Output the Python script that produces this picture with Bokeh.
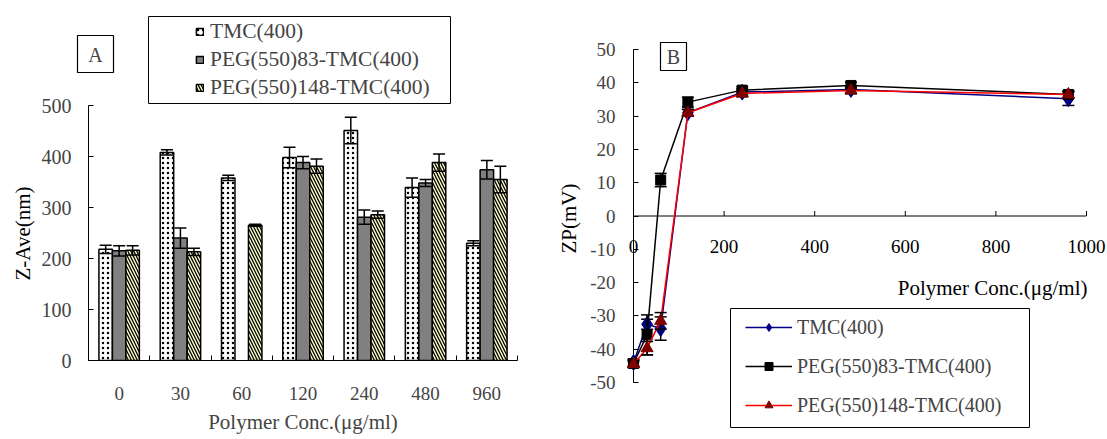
import numpy as np
from bokeh.plotting import figure
from bokeh.models import (Range1d, FixedTicker, Legend, LegendItem, Label, Span)
from bokeh.core.properties import value
from bokeh.layouts import row
from bokeh.embed import file_html
from bokeh.resources import INLINE

# ---------------- data ----------------
conc_labels = ["0", "30", "60", "120", "240", "480", "960"]
conc_values = [0, 30, 60, 120, 240, 480, 960]
series_names = ["TMC(400)", "PEG(550)83-TMC(400)", "PEG(550)148-TMC(400)"]

# Panel A: Z-Ave (nm)
zave_tmc = [218, 408, 358, 398, 451, 339, 230]
zave_tmc_err = [8, 5, 5, 20, 26, 19, 5]
zave_peg83 = [215, 240, float("nan"), 388, 281, 348, 374]
zave_peg83_err = [10, 20, float("nan"), 12, 14, 7, 18]
zave_peg148 = [216, 213, 265, 381, 286, 388, 355]
zave_peg148_err = [9, 7, 2, 14, 7, 17, 26]

# Panel B: ZP (mV)
zp_tmc = [-44.0, -32.5, -33.8, 31.0, 37.2, 38.0, 35.2]
zp_tmc_err = [1, 1.5, 3.5, 1, 1, 1, 2]
zp_peg83 = [-44.3, -35.7, 10.8, 34.2, 37.8, 39.2, 36.5]
zp_peg83_err = [1, 6, 2, 1.5, 1, 1, 1]
zp_peg148 = [-44.5, -39.7, -31.5, 31.0, 36.8, 37.7, 36.5]
zp_peg148_err = [1, 2, 2.5, 1, 1, 1, 1]

zave_ticks = [0, 100, 200, 300, 400, 500]
zp_ticks = [-50, -40, -30, -20, -10, 0, 10, 20, 30, 40, 50]
conc_ticks_B = [0, 200, 400, 600, 800, 1000]

FONT = "Liberation Serif"
H = 439

# ---------------- panel A ----------------
WA = 545
A_L, A_R, A_T, A_B = 88, 28, 10, 79
frameA_w = WA - A_L - A_R
frameA_h = H - A_T - A_B
px_per_unit_A = 255 / 500.0
ymaxA = frameA_h / px_per_unit_A
ncat = len(conc_labels)

def ax(px):
    return (px - A_L) / (frameA_w / ncat)

def ay(py):
    return (H - A_B - py) / px_per_unit_A

pA = figure(width=WA, height=H, x_range=Range1d(0, ncat), y_range=Range1d(0, ymaxA),
            output_backend="svg", toolbar_location=None,
            min_border_left=A_L, min_border_right=A_R, min_border_top=A_T, min_border_bottom=A_B)
pA.frame_align = False
pA.outline_line_color = None
pA.grid.visible = False
pA.background_fill_color = "white"
pA.border_fill_color = "white"

centers = np.arange(ncat) + 0.5
bw = 0.22
offsets = [-bw, 0.0, bw]
bar_styles = [
    dict(fill_color="white", hatch_pattern="dot", hatch_color="black", hatch_scale=5, hatch_weight=0.8),
    dict(fill_color="#808080"),
    dict(fill_color="#FFFFCC", hatch_pattern="left_diagonal_line", hatch_color="black", hatch_scale=6, hatch_weight=1.3),
]
bar_vals = [zave_tmc, zave_peg83, zave_peg148]
bar_errs = [zave_tmc_err, zave_peg83_err, zave_peg148_err]
bar_renderers = []
for vals, errs, off, st in zip(bar_vals, bar_errs, offsets, bar_styles):
    x = centers + off
    v = np.array(vals, dtype=float)
    e = np.array(errs, dtype=float)
    r = pA.vbar(x=x, top=v, width=bw, bottom=0, line_color="black", line_width=1.5, **st)
    bar_renderers.append(r)
    pA.segment(x0=x, y0=v - e, x1=x, y1=v + e, line_color="black", line_width=1.5)
    pA.scatter(x=np.concatenate([x, x]), y=np.concatenate([v + e, v - e]), marker="dash",
               size=12, line_color="black", line_width=1.5)

# axes A
yaxA = pA.yaxis[0]
yaxA.ticker = FixedTicker(ticks=zave_ticks)
yaxA.bounds = (0, 500)
yaxA.major_tick_in = 5
yaxA.major_tick_out = 0
yaxA.minor_tick_line_color = None
yaxA.major_label_standoff = 17
yaxA.major_label_text_font = FONT
yaxA.major_label_text_font_size = "20px"

ylA = pA.text(x=[ax(22)], y=[ay(233)], text=["Z-Ave(nm)"], angle=np.pi / 2,
              text_align="center", text_baseline="middle",
              text_font=value(FONT), text_font_size="21px", text_color="black")
ylA.level = "overlay"

xaxA = pA.xaxis[0]
xaxA.ticker = FixedTicker(ticks=list(centers), minor_ticks=list(range(0, ncat + 1)))
xaxA.major_label_overrides = {float(c): lab for c, lab in zip(centers, conc_labels)}
xaxA.major_tick_line_color = None
xaxA.minor_tick_in = 5
xaxA.minor_tick_out = 0
xaxA.major_label_standoff = 20
xaxA.major_label_text_font = FONT
xaxA.major_label_text_font_size = "19px"
xaxA.axis_label = "Polymer Conc.(\u03bcg/ml)"
xaxA.axis_label_text_font = FONT
xaxA.axis_label_text_font_size = "21px"
xaxA.axis_label_text_font_style = "normal"
xaxA.axis_label_standoff = 7

# legend A
legA = Legend(items=[LegendItem(label=n, renderers=[r]) for n, r in zip(series_names, bar_renderers)],
              location=(107, 259), padding=0, spacing=0, margin=0,
              glyph_width=9, glyph_height=9, label_height=28, label_standoff=6,
              label_text_font=FONT, label_text_font_size="21.5px",
              border_line_color=None, background_fill_alpha=0)
pA.add_layout(legA)
pA.quad(left=[ax(148)], right=[ax(450)], top=[ay(16)], bottom=[ay(103)],
        fill_color=None, line_color="black", line_width=1)

boxA = pA.quad(left=[ax(77)], right=[ax(113)], top=[ay(35)], bottom=[ay(72)],
               fill_color=None, line_color="black", line_width=1.2)
boxA.level = "overlay"
pA.add_layout(Label(x=ax(95), y=ay(54), text="A", text_align="center", text_baseline="middle",
                    text_font=FONT, text_font_size="20px"))

# ---------------- panel B ----------------
WB = 1107 - WA
B_L, B_R, B_T, B_B = 88, 21, 49, 7
frameB_w = WB - B_L - B_R
frameB_h = H - B_T - B_B
frame_left_B = WA + B_L
px_per_unit_B = 333 / 100.0
yminB = 50 - frameB_h / px_per_unit_B

def bx(px):
    return (px - frame_left_B) * 1000.0 / frameB_w

def by(py):
    return 50 - (py - B_T) / px_per_unit_B

pB = figure(width=WB, height=H, x_range=Range1d(0, 1000), y_range=Range1d(yminB, 50),
            x_axis_location=None, output_backend="svg", toolbar_location=None,
            min_border_left=B_L, min_border_right=B_R, min_border_top=B_T, min_border_bottom=B_B)
pB.frame_align = False
pB.outline_line_color = None
pB.grid.visible = False
pB.background_fill_color = "white"
pB.border_fill_color = "white"

yaxB = pB.yaxis[0]
yaxB.ticker = FixedTicker(ticks=zp_ticks)
yaxB.major_label_overrides = {t: str(t) for t in zp_ticks}
yaxB.bounds = (-50, 50)
yaxB.major_tick_in = 5
yaxB.major_tick_out = 0
yaxB.minor_tick_line_color = None
yaxB.major_label_standoff = 18
yaxB.major_label_text_font = FONT
yaxB.major_label_text_font_size = "19px"

ylB = pB.text(x=[bx(568)], y=[by(218)], text=["ZP(mV)"], angle=np.pi / 2,
              text_align="center", text_baseline="middle",
              text_font=value(FONT), text_font_size="21px", text_color="black")
ylB.level = "overlay"

# x axis of panel B crossing at zero
pB.add_layout(Span(location=0, dimension="width", line_color="black", line_width=1))
tk = pB.ray(x=conc_ticks_B, y=[0] * len(conc_ticks_B), length=5, length_units="screen",
            angle=np.pi / 2, line_color="black", line_width=1)
tk.level = "overlay"
tl = pB.text(x=conc_ticks_B, y=[0] * len(conc_ticks_B), text=[str(t) for t in conc_ticks_B],
             y_offset=30, text_align="center", text_baseline="middle",
             text_font=value(FONT), text_font_size="19px", text_color="black")
tl.level = "overlay"
xt = pB.text(x=[bx(1087)], y=[by(287)], text=["Polymer Conc.(\u03bcg/ml)"],
             text_align="right", text_baseline="middle",
             text_font=value(FONT), text_font_size="21px", text_color="black")
xt.level = "overlay"

line_colors = ["#000080", "black", "red"]
mk_colors = ["#000080", "black", "#800000"]
markers = ["diamond", "square", "triangle"]
mk_sizes = [16, 10, 12]
zp_vals = [zp_tmc, zp_peg83, zp_peg148]
zp_errs = [zp_tmc_err, zp_peg83_err, zp_peg148_err]
leg_items = []
for name, vals, errs, lc, mc, mk, ms in zip(series_names, zp_vals, zp_errs, line_colors,
                                            mk_colors, markers, mk_sizes):
    v = np.array(vals, dtype=float)
    e = np.array(errs, dtype=float)
    x = np.array(conc_values, dtype=float)
    rl = pB.line(x=x, y=v, line_color=lc, line_width=1.5)
    rs1 = pB.segment(x0=x, y0=v - e, x1=x, y1=v + e, line_color="black", line_width=1.5)
    rs2 = pB.scatter(x=np.concatenate([x, x]), y=np.concatenate([v + e, v - e]), marker="dash",
                     size=12, line_color="black", line_width=1.5)
    rm = pB.scatter(x=x, y=v, marker=mk, size=ms, fill_color=mc, line_color=mc)
    for r in (rl, rs1, rs2, rm):
        r.level = "overlay"
    leg_items.append(LegendItem(label=name, renderers=[rl, rm]))

legB = Legend(items=leg_items, location=(112, H - B_B - B_T - (417 - B_T)), padding=0, spacing=15, margin=0,
              glyph_width=47, glyph_height=20, label_height=24, label_standoff=5,
              label_text_font=FONT, label_text_font_size="20px",
              border_line_color=None, background_fill_alpha=0)
pB.add_layout(legB)
pB.quad(left=[bx(730)], right=[bx(1029)], top=[by(308)], bottom=[by(427)],
        fill_color=None, line_color="black", line_width=1)

boxB = pB.quad(left=[bx(660)], right=[bx(686)], top=[by(42)], bottom=[by(70)],
               fill_color=None, line_color="black", line_width=1.2)
boxB.level = "overlay"
pB.add_layout(Label(x=bx(673), y=by(56), text="B", text_align="center", text_baseline="middle",
                    text_font=FONT, text_font_size="20px"))

layout = row(pA, pB)
open("out.html", "w").write(file_html(layout, INLINE))
